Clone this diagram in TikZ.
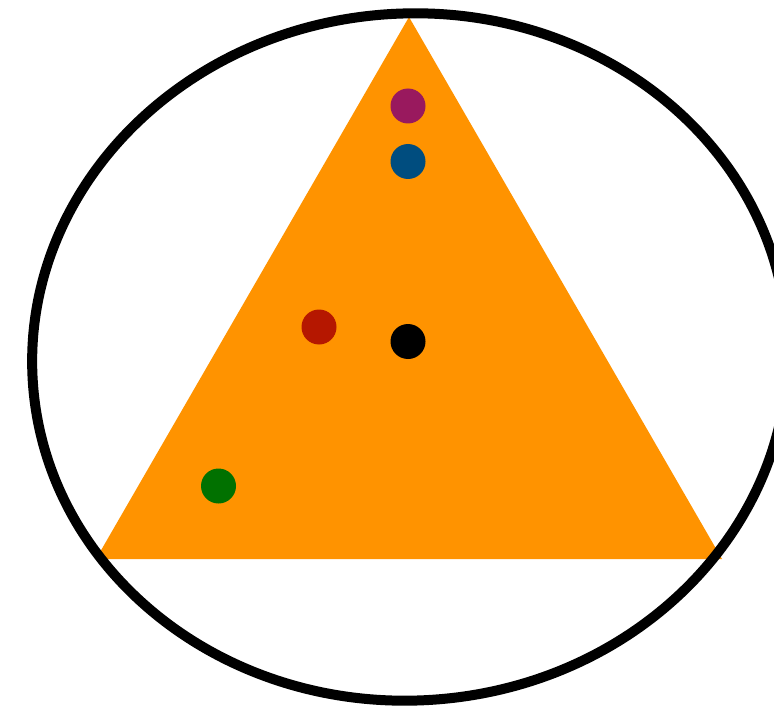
\documentclass[tikz,border=0pt]{standalone}
\definecolor{tri}{HTML}{FF9300}
\definecolor{dpurple}{HTML}{99195E}
\definecolor{dblue}{HTML}{004D7F}
\definecolor{dred}{HTML}{B51700}
\definecolor{dgreen}{HTML}{017100}
\begin{document}
\begin{tikzpicture}[x=1pt,y=-1pt,
  dot/.style={circle,inner sep=0pt,minimum size=35pt,draw=none}]
\useasboundingbox (0,0) rectangle (774,706);
\fill[tri] (409,17) -- (96,559) -- (722,559) -- cycle;
\node[dot,fill=dpurple] (p) at (408,106) {};
\node[dot,fill=dblue] (b) at (408,161.5) {};
\node[dot,fill=dred] (r) at (319,327) {};
\node[dot,fill=black] (k) at (408,341.5) {};
\node[dot,fill=dgreen] (g) at (218.5,486) {};
\draw[line width=10pt,rotate around={4:(410,357)}] (410,357) ellipse [x radius=378, y radius=343.5];
\end{tikzpicture}
\end{document}
